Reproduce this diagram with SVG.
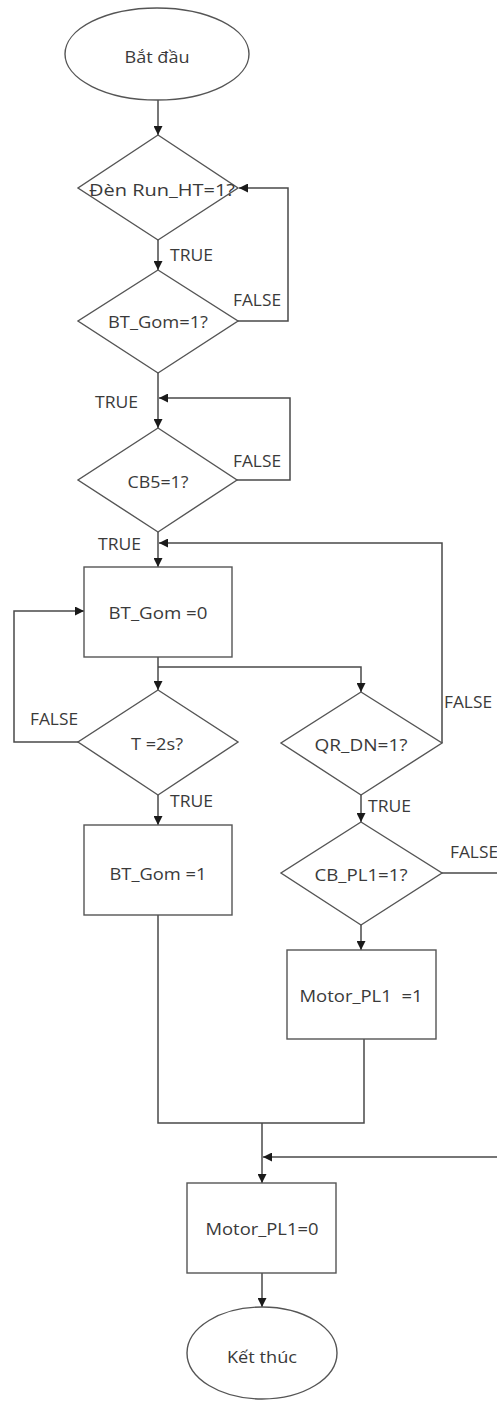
<svg xmlns="http://www.w3.org/2000/svg" width="497" height="1403" viewBox="0 0 497 1403">
  <style>
    .shape { fill: #ffffff; stroke: #555555; stroke-width: 1.4; }
    .wire { fill: none; stroke: #4a4a4a; stroke-width: 1.5; }
    .label { font-family: "Open Sans", "Liberation Sans", sans-serif; font-size: 17px; fill: #3a3a3a; text-anchor: middle; dominant-baseline: central; }
    .tag { font-family: "Open Sans", "Liberation Sans", sans-serif; font-size: 16px; fill: #3a3a3a; }
  </style>
  <defs>
    <marker id="arrow" viewBox="0 0 10 10" refX="10" refY="5" markerWidth="10" markerHeight="9" markerUnits="userSpaceOnUse" orient="auto">
      <path d="M0,0 L10,5 L0,10 z" fill="#1a1a1a"/>
    </marker>
  </defs>

  <rect width="497" height="1403" fill="#ffffff"/>

  <!-- connectors -->
  <g id="connectors">
    <line class="wire" x1="158" y1="100" x2="158" y2="135" marker-end="url(#arrow)"/>
    <line class="wire" x1="158" y1="240" x2="158" y2="270" marker-end="url(#arrow)"/>
    <polyline class="wire" points="238,321 288,321 288,188 239,188" marker-end="url(#arrow)"/>
    <line class="wire" x1="158" y1="373" x2="158" y2="428" marker-end="url(#arrow)"/>
    <polyline class="wire" points="237,480 290,480 290,398 159,398" marker-end="url(#arrow)"/>
    <line class="wire" x1="158" y1="532" x2="158" y2="567" marker-end="url(#arrow)"/>
    <polyline class="wire" points="442,743 442,543 159,543" marker-end="url(#arrow)"/>
    <line class="wire" x1="158" y1="657" x2="158" y2="690" marker-end="url(#arrow)"/>
    <polyline class="wire" points="158,667 361,667 361,692" marker-end="url(#arrow)"/>
    <polyline class="wire" points="78,742 14,742 14,611 84,611" marker-end="url(#arrow)"/>
    <line class="wire" x1="158" y1="795" x2="158" y2="825" marker-end="url(#arrow)"/>
    <line class="wire" x1="361" y1="795" x2="361" y2="822" marker-end="url(#arrow)"/>
    <line class="wire" x1="361" y1="925" x2="361" y2="950" marker-end="url(#arrow)"/>
    <polyline class="wire" points="442,873 500,873 500,1157 263,1157" marker-end="url(#arrow)"/>
    <polyline class="wire" points="158,915 158,1123 364,1123 364,1039"/>
    <line class="wire" x1="262" y1="1123" x2="262" y2="1183" marker-end="url(#arrow)"/>
    <line class="wire" x1="262" y1="1273" x2="262" y2="1307" marker-end="url(#arrow)"/>

    <text class="tag" x="170" y="261" textLength="43" lengthAdjust="spacingAndGlyphs">TRUE</text>
    <text class="tag" x="233" y="306" textLength="48" lengthAdjust="spacingAndGlyphs">FALSE</text>
    <text class="tag" x="95" y="408" textLength="43" lengthAdjust="spacingAndGlyphs">TRUE</text>
    <text class="tag" x="233" y="467" textLength="48" lengthAdjust="spacingAndGlyphs">FALSE</text>
    <text class="tag" x="98" y="550" textLength="43" lengthAdjust="spacingAndGlyphs">TRUE</text>
    <text class="tag" x="30" y="725" textLength="48" lengthAdjust="spacingAndGlyphs">FALSE</text>
    <text class="tag" x="170" y="807" textLength="43" lengthAdjust="spacingAndGlyphs">TRUE</text>
    <text class="tag" x="444" y="708" textLength="48" lengthAdjust="spacingAndGlyphs">FALSE</text>
    <text class="tag" x="368" y="812" textLength="43" lengthAdjust="spacingAndGlyphs">TRUE</text>
    <text class="tag" x="450" y="858" textLength="48" lengthAdjust="spacingAndGlyphs">FALSE</text>
  </g>

  <!-- start -->
  <g id="start">
    <ellipse class="shape" cx="157" cy="54" rx="92" ry="46"/>
    <text class="label" x="157" y="56" textLength="65" lengthAdjust="spacingAndGlyphs">Bắt đầu</text>
  </g>

  <!-- decisions -->
  <g id="check-run-ht">
    <polygon class="shape" points="158,135 238,188 158,240 78,188"/>
    <text class="label" x="162" y="189" textLength="146" lengthAdjust="spacingAndGlyphs">Đèn Run_HT=1?</text>
  </g>
  <g id="check-bt-gom">
    <polygon class="shape" points="158,270 238,321 158,373 78,321"/>
    <text class="label" x="158" y="321" textLength="100" lengthAdjust="spacingAndGlyphs">BT_Gom=1?</text>
  </g>
  <g id="check-cb5">
    <polygon class="shape" points="158,428 237,480 158,532 78,480"/>
    <text class="label" x="158" y="481" textLength="61" lengthAdjust="spacingAndGlyphs">CB5=1?</text>
  </g>

  <!-- actions -->
  <g id="set-bt-gom-0">
    <rect class="shape" x="84" y="567" width="148" height="90"/>
    <text class="label" x="158" y="612" textLength="99" lengthAdjust="spacingAndGlyphs">BT_Gom =0</text>
  </g>
  <g id="check-timer">
    <polygon class="shape" points="158,690 238,742 158,795 78,742"/>
    <text class="label" x="157" y="743" textLength="52" lengthAdjust="spacingAndGlyphs">T =2s?</text>
  </g>
  <g id="set-bt-gom-1">
    <rect class="shape" x="84" y="825" width="148" height="90"/>
    <text class="label" x="158" y="873" textLength="97" lengthAdjust="spacingAndGlyphs">BT_Gom =1</text>
  </g>
  <g id="check-qr-dn">
    <polygon class="shape" points="361,692 442,743 361,795 281,743"/>
    <text class="label" x="361" y="744" textLength="93" lengthAdjust="spacingAndGlyphs">QR_DN=1?</text>
  </g>
  <g id="check-cb-pl1">
    <polygon class="shape" points="361,822 442,873 361,925 281,873"/>
    <text class="label" x="361" y="874" textLength="93" lengthAdjust="spacingAndGlyphs">CB_PL1=1?</text>
  </g>
  <g id="set-motor-pl1-1">
    <rect class="shape" x="287" y="950" width="149" height="89"/>
    <text class="label" x="361" y="995" textLength="123" lengthAdjust="spacingAndGlyphs" xml:space="preserve">Motor_PL1  =1</text>
  </g>
  <g id="set-motor-pl1-0">
    <rect class="shape" x="187" y="1183" width="149" height="90"/>
    <text class="label" x="262" y="1228" textLength="113" lengthAdjust="spacingAndGlyphs">Motor_PL1=0</text>
  </g>

  <!-- end -->
  <g id="end">
    <ellipse class="shape" cx="262" cy="1353" rx="75" ry="46"/>
    <text class="label" x="262" y="1356" textLength="70" lengthAdjust="spacingAndGlyphs">Kết thúc</text>
  </g>
</svg>
